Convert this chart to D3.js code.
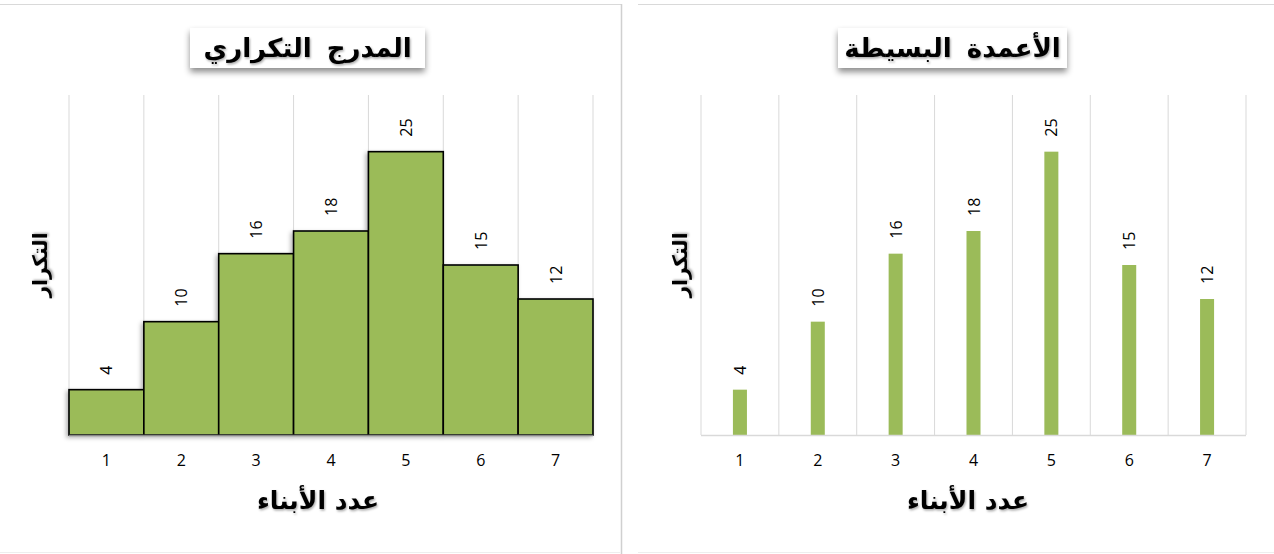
<!DOCTYPE html>
<html>
<head>
<meta charset="utf-8">
<script src="https://cdn.jsdelivr.net/npm/d3@7"></script>
<style>
  body { margin: 0; background: #fff; }
  svg { display: block; }
</style>
</head>
<body>
<div id="chart"></div>
<script>
// data
const childCounts = ["1", "2", "3", "4", "5", "6", "7"];
const frequencies = [4, 10, 16, 18, 25, 15, 12];
const histTitle = "المدرج التكراري";
const barTitle = "الأعمدة البسيطة";
const yLabel = "التكرار";
const xLabel = "عدد الأبناء";

const W = 1274, H = 554;
const svg = d3.select("#chart").append("svg")
  .attr("width", W)
  .attr("height", H);

const defs = svg.append("defs");
const boxShadow = defs.append("filter").attr("id", "boxShadow")
  .attr("x", "-20%").attr("y", "-30%").attr("width", "140%").attr("height", "180%");
boxShadow.append("feDropShadow")
  .attr("dx", 0).attr("dy", 4).attr("stdDeviation", 3)
  .attr("flood-color", "#000").attr("flood-opacity", 0.45);

const textShadow = defs.append("filter").attr("id", "textShadow")
  .attr("x", "-10%").attr("y", "-10%").attr("width", "120%").attr("height", "130%");
textShadow.append("feDropShadow")
  .attr("dx", 1).attr("dy", 1.5).attr("stdDeviation", 1)
  .attr("flood-color", "#000").attr("flood-opacity", 0.35);

const barShadow = defs.append("filter").attr("id", "barShadow")
  .attr("x", "-20%").attr("y", "-20%").attr("width", "140%").attr("height", "140%");
barShadow.append("feDropShadow")
  .attr("dx", -2).attr("dy", 2).attr("stdDeviation", 2)
  .attr("flood-color", "#000").attr("flood-opacity", 0.3);

const arabicFont = "'DejaVu Sans', sans-serif";
const numFont = "'Open Sans', 'Liberation Sans', sans-serif";

// panel frames
svg.append("line").attr("x1", 0).attr("x2", 621).attr("y1", 4.5).attr("y2", 4.5)
  .attr("stroke", "#d9d9d9");
svg.append("line").attr("x1", 621.5).attr("x2", 621.5).attr("y1", 4).attr("y2", H)
  .attr("stroke", "#d0d0d0").attr("stroke-width", 1.5);
svg.append("line").attr("x1", 0).attr("x2", 620).attr("y1", 552.5).attr("y2", 552.5)
  .attr("stroke", "#eeeeee");
svg.append("line").attr("x1", 638).attr("x2", W).attr("y1", 4.5).attr("y2", 4.5)
  .attr("stroke", "#d9d9d9");
svg.append("line").attr("x1", 638).attr("x2", W).attr("y1", 552.5).attr("y2", 552.5)
  .attr("stroke", "#eeeeee");

function drawPanel(opts) {
  const g = svg.append("g");
  const x = d3.scaleBand().domain(childCounts).range([opts.left, opts.right]).padding(0);
  const y = d3.scaleLinear().domain([0, 30]).range([435, 95]);

  // vertical gridlines at category boundaries
  g.selectAll("line.grid")
    .data(childCounts)
    .enter().append("line")
    .attr("class", "grid")
    .attr("x1", d => x(d) + x.bandwidth())
    .attr("x2", d => x(d) + x.bandwidth())
    .attr("y1", y(30)).attr("y2", y(0))
    .attr("stroke", "#d9d9d9").attr("stroke-width", 1);

  // left axis line
  g.append("line")
    .attr("x1", opts.left).attr("x2", opts.left)
    .attr("y1", y(30)).attr("y2", y(0))
    .attr("stroke", "#d9d9d9");

  // bars
  const bars = g.append("g");
  if (opts.hist) {
    bars.attr("filter", "url(#barShadow)");
    bars.selectAll("rect")
      .data(frequencies)
      .enter().append("rect")
      .attr("x", (d, i) => x(childCounts[i]))
      .attr("width", x.bandwidth())
      .attr("y", d => y(d))
      .attr("height", d => y(0) - y(d))
      .attr("fill", "#9bbb59")
      .attr("stroke", "#000").attr("stroke-width", 1.6);
  } else {
    const bw = x.bandwidth() * 0.18;
    bars.selectAll("rect")
      .data(frequencies)
      .enter().append("rect")
      .attr("x", (d, i) => x(childCounts[i]) + x.bandwidth() / 2 - bw / 2)
      .attr("width", bw)
      .attr("y", d => y(d))
      .attr("height", d => y(0) - y(d))
      .attr("fill", "#9bbb59");
  }

  // baseline
  g.append("line")
    .attr("x1", opts.left).attr("x2", opts.right)
    .attr("y1", y(0) + 0.5).attr("y2", y(0) + 0.5)
    .attr("stroke", opts.hist ? "#888" : "#d9d9d9").attr("stroke-width", 1.5);

  // value labels (rotated)
  g.selectAll("text.val")
    .data(frequencies)
    .enter().append("text")
    .attr("class", "val")
    .attr("transform", (d, i) => `translate(${x(childCounts[i]) + x.bandwidth() / 2 + 6},${y(d) - 15}) rotate(-90)`)
    .attr("text-anchor", "start")
    .style("font-family", numFont)
    .style("font-size", "16px")
    .attr("fill", "#000")
    .text(d => d);

  // x tick labels
  const xAxis = g.append("g")
    .attr("transform", `translate(0,${y(0)})`)
    .call(d3.axisBottom(x).tickSize(0).tickPadding(20));
  xAxis.select(".domain").remove();
  xAxis.selectAll("text")
    .style("font-family", numFont)
    .style("font-size", "16px")
    .attr("fill", "#000");

  // x axis title
  g.append("text")
    .attr("x", opts.xLabelX).attr("y", 509)
    .attr("text-anchor", "middle")
    .attr("filter", "url(#textShadow)")
    .style("font-family", arabicFont)
    .style("font-weight", "bold")
    .style("font-size", "25px")
    .text(xLabel);

  // y axis title
  g.append("text")
    .attr("transform", `translate(${opts.yLabelX},265) rotate(-90)`)
    .attr("text-anchor", "middle")
    .attr("filter", "url(#textShadow)")
    .style("font-family", arabicFont)
    .style("font-weight", "bold")
    .style("font-size", "20px")
    .text(yLabel);

  // title box
  g.append("rect")
    .attr("x", opts.titleBox[0]).attr("y", 28)
    .attr("width", opts.titleBox[1] - opts.titleBox[0]).attr("height", 40)
    .attr("fill", "#fff")
    .attr("filter", "url(#boxShadow)");
  g.append("text")
    .attr("x", (opts.titleBox[0] + opts.titleBox[1]) / 2).attr("y", 57)
    .attr("text-anchor", "middle")
    .attr("filter", "url(#textShadow)")
    .style("font-family", arabicFont)
    .style("font-weight", "bold")
    .style("font-size", "26px")
    .style("word-spacing", "6px")
    .text(opts.title);
}

drawPanel({ left: 69, right: 593, hist: true, title: histTitle,
  titleBox: [190, 425], xLabelX: 318, yLabelX: 47 });
drawPanel({ left: 701, right: 1246, hist: false, title: barTitle,
  titleBox: [838, 1067], xLabelX: 968, yLabelX: 687 });
</script>
</body>
</html>
